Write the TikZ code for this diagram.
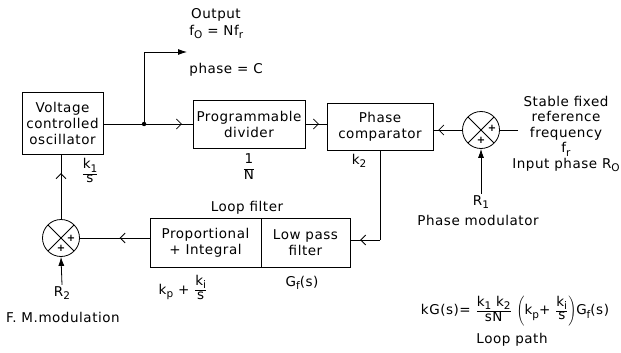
\documentclass[tikz,border=0pt]{standalone}
\usepackage{fontspec}
\setmainfont{DejaVu Sans}[LetterSpace=4]
\usetikzlibrary{arrows.meta,decorations.markings}
\newcommand\myfrac[2]{$\frac{\mbox{\strut#1}}{\mbox{#2}}$}
\newcommand\mysub[1]{\raisebox{-3.5pt}{\fontsize{10.5}{10.5}\selectfont #1}}
\begin{document}
\begin{tikzpicture}[x=1pt,y=-1pt,
  font=\fontsize{13.5}{16}\selectfont,
  line width=0.8pt,
  box/.style={draw, align=center, inner sep=0pt},
  sum/.style={circle, draw, minimum size=37pt, inner sep=0pt,
    path picture={\draw (path picture bounding box.north west) -- (path picture bounding box.south east)
                        (path picture bounding box.north east) -- (path picture bounding box.south west);}},
  plus/.style={font=\fontsize{10}{10}\selectfont\bfseries, inner sep=0pt},
  midarr/.style={postaction={decorate}, decoration={markings,
    mark=at position #1 with {\arrow{Straight Barb[length=5pt,width=10pt]}}}},
  fillarr/.style={-{Latex[length=9pt,width=6pt]}},
  lbl/.style={inner sep=1pt, align=center}
]
\useasboundingbox (0,0) rectangle (621,353);

% blocks
\node[box, minimum width=81pt, minimum height=62pt] (vco) at (62.5,123) {Voltage\\controlled\\oscillator};
\node[box, minimum width=112pt, minimum height=48pt] (div) at (249,124) {Programmable\\divider};
\node[box, minimum width=106pt, minimum height=47pt] (comp) at (380,127) {Phase\\comparator};
\node[box, minimum width=111pt, minimum height=49pt] (pi) at (205.5,242.5) {Proportional\\+ Integral};
\node[box, minimum width=89pt, minimum height=49pt] (lp) at (305.5,242.5) {Low pass\\filter};

% summers
\node[sum] (s1) at (481,130) {};
\node[plus] at ([xshift=11pt,yshift=1.5pt]s1.center) {+};
\node[plus] at ([yshift=-10pt]s1.center) {+};
\node[sum] (s2) at (61,238) {};
\node[plus] at ([xshift=10pt]s2.center) {+};
\node[plus] at ([yshift=-10pt]s2.center) {+};

% labels
\node[lbl] at (216,15) {Output};
\node[lbl, anchor=west] at (188,32) {f\mysub{O} = Nf\mysub{r}};
\node[lbl, anchor=west] at (188,70) {phase = C};
\node[lbl] at (90,170) {\myfrac{k\mysub{1}}{s}};
\node[lbl] at (249,166) {\myfrac{1}{N}};
\node[lbl] at (359,161) {k\mysub{2}};
\node[lbl, font=\fontsize{13.5}{15.5}\selectfont] (ref) at (566,134) {Stable fixed\\reference\\frequency\\f\mysub{r}\\Input phase R\mysub{O}};
\node[lbl] (r1) at (481,202) {R\mysub{1}};
\node[lbl] at (478,220) {Phase modulator};
\node[lbl] at (247,208) {Loop filter};
\node[lbl] at (183,287) {k\mysub{p} + \myfrac{k\mysub{i}}{s}};
\node[lbl] at (302,283) {G\mysub{f}(s)};
\node[lbl] (r2) at (62,293) {R\mysub{2}};
\node[lbl] at (63,317) {F. M.modulation};
\node[lbl, font=\fontsize{13.5}{15}\selectfont] at (515,311) {kG(s)= \myfrac{k\mysub{1} k\mysub{2}}{sN} $\left(\mbox{k\mysub{p}+ \myfrac{k\mysub{i}}{s}}\right)$G\mysub{f}(s)};
\node[lbl] at (512,340) {Loop path};

% connectors
\path (vco.east |- div.west) -- (div.west) coordinate[pos=0.456] (j);
\draw[midarr=0.88] (vco.east |- div.west) -- (div.west);
\fill (j) circle (2.2pt);
\coordinate (outc) at (187,52);
\draw[fillarr] (j) |- (outc);
\draw[midarr=0.64] (div.east) -- (div.east -| comp.west);
\coordinate (refin) at (518,130);
\draw (refin) -- (s1.east);
\draw[midarr=0.83] (s1.west) -- (s1.west -| comp.east);
\draw[fillarr] (r1.north) -- (s1.south);
\coordinate (cd) at (380,240);
\draw (comp.south) -- (cd);
\draw[midarr=0.67] (cd) -- (cd -| lp.east);
\draw[midarr=0.43] (s2.east -| pi.west) -- (s2.east);
\draw[midarr=0.71] (s2.north) -- (s2.north |- vco.south);
\draw[fillarr] (r2.north) -- (s2.south);
\end{tikzpicture}
\end{document}
